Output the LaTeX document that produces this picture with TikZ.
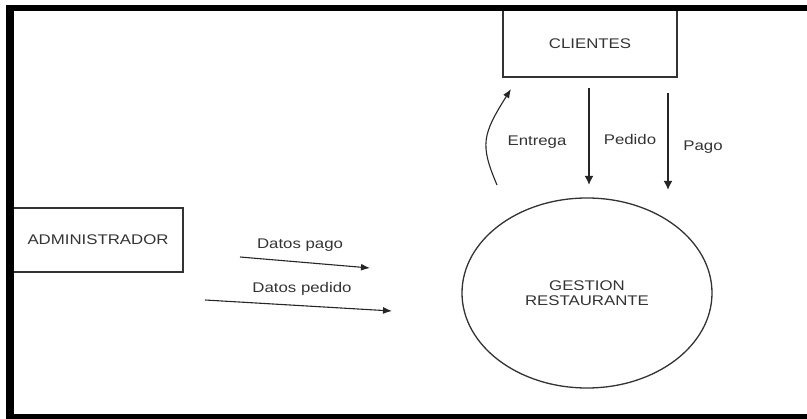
\documentclass[tikz,border=0pt]{standalone}
\usepackage{fontspec}
\setmainfont{Liberation Sans}[FakeStretch=1.2]
\usetikzlibrary{arrows.meta, shapes.geometric}

\begin{document}
\begin{tikzpicture}
[x=1pt, y=-1pt, font=\fontsize{14}{15}\selectfont, text=black!80,
 entity/.style={draw=black!80, line width=1.3pt, rectangle, inner sep=0pt},
 process/.style={draw=black!80, line width=1.3pt, ellipse, inner sep=0pt,
   minimum width=250pt, minimum height=190pt, align=center},
 flow/.style={draw=black!85, line width=1.8pt, -{Latex[length=9pt,width=9pt]}},
 thinflow/.style={draw=black!85, line width=1.1pt, -{Latex[length=9pt,width=7pt]}}]
\useasboundingbox (0,0) rectangle (807,419);

\node [entity, minimum width=174pt, minimum height=67pt] (clientes) at (590,43.5) {CLIENTES};
\node [entity, minimum width=170pt, minimum height=64pt] (admin) at (98,240) {ADMINISTRADOR};
\node [process] (gestion) at (587,293) {GESTION\\RESTAURANTE};

\coordinate (entrega from) at (497,185);
\coordinate (entrega to) at (511,89);
\coordinate (pedido from) at (589,88);
\coordinate (pedido to) at (589,185);
\coordinate (pago from) at (668,93);
\coordinate (pago to) at (668,190);
\coordinate (dpago from) at (240,257);
\coordinate (dpago to) at (370,268);
\coordinate (dpedido from) at (205,300);
\coordinate (dpedido to) at (392,311);

\draw [thinflow] (entrega from) .. controls (480,145) and (482,135) .. (entrega to);
\draw [flow] (pedido from) -- (pedido to);
\draw [flow] (pago from) -- (pago to);
\draw [thinflow] (dpago from) -- (dpago to);
\draw [thinflow] (dpedido from) -- (dpedido to);

\node (entrega) at (537,142) {Entrega};
\node (pedido) at (630,140) {Pedido};
\node (pago) at (703,147) {Pago};
\node (datos pago) at (300,245) {Datos pago};
\node (datos pedido) at (302,289) {Datos pedido};

% frame
\fill (6,5) rectangle (14,419);
\fill (6,5) rectangle (807,11);
\fill (6,414) rectangle (807,419);
\end{tikzpicture}
\end{document}
